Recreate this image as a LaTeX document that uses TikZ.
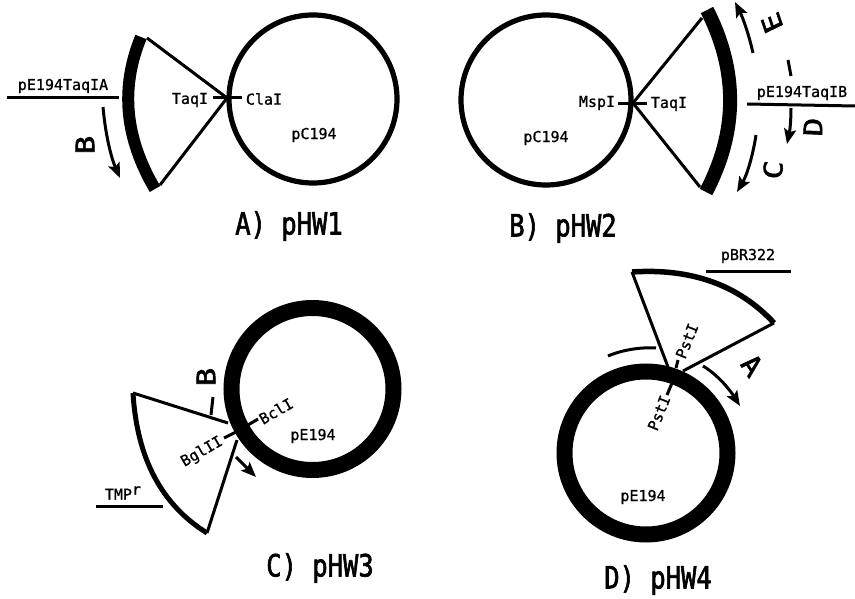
\documentclass[tikz,border=0pt]{standalone}
\usepackage{fontspec}
\setmonofont{DejaVu Sans Mono}
\newfontfamily\labfont[FakeBold=1.0]{DejaVu Sans Mono}
\newfontfamily\bigfont[FakeBold=2.2]{DejaVu Sans Mono}
\usetikzlibrary{arrows.meta,calc}
\tikzset{
 lab/.style={inner sep=0pt,font=\labfont\fontsize{15}{15}\selectfont},
 big/.style={inner sep=0pt,font=\bigfont\fontsize{25.5}{25}\selectfont,yscale=1.2},
 ring/.style={draw=black,line width=5.2pt},
 fatring/.style={draw=black,line width=16pt},
 thin/.style={draw=black,line width=3pt},
 tick/.style={draw=black,line width=3pt},
 spoke/.style={draw=black,line width=3pt},
 arr/.style={draw=black,line width=3pt,-{Stealth[length=15pt,width=12pt,inset=3pt]}},
}
\begin{document}
\begin{tikzpicture}[x=1pt,y=-1pt]
\useasboundingbox[fill=white] (0,0) rectangle (855,599);
% ---- A
\node[circle,ring,minimum size=168pt,inner sep=0pt] (ca) at (313,99) {};
\coordinate (aa) at (227,98); \coordinate (at) at (147,38); \coordinate (ab) at (160,185);
\coordinate (aao) at (141,37); \coordinate (abo) at (155,189);
\draw[spoke] (aa)--(at); \draw[spoke] (aa)--(ab);
\draw[line width=12pt] (aao) .. controls (120,88) and (125,138) .. (abo);
\coordinate (a1) at (7,98); \coordinate (a2) at (119,98);
\draw[thin] (a1)--(a2);
\coordinate (a3) at (213,98); \coordinate (a4) at (242,98);
\draw[tick] (a3)--(a4);
\node[lab] (a5) at (63,86) {pE194TaqIA};
\node[lab] (a6) at (190,100) {TaqI};
\node[lab] (a7) at (264,99) {ClaI};
\node[lab] (a8) at (314,135) {pC194};
\coordinate (a9) at (103,107); \coordinate (a10) at (120,178);
\draw[arr] (a9) .. controls (105,130) and (110,155) .. (a10);
\node[big,rotate=90] (a11) at (85,145) {B};
\node[big] (a12) at (289,226) {A) pHW1};
% ---- B
\node[circle,ring,minimum size=170pt,inner sep=0pt] (cb) at (546,100) {};
\coordinate (ba) at (633,103); \coordinate (bt) at (702,18); \coordinate (bb) at (700,187);
\coordinate (bto) at (707,10); \coordinate (bbo) at (706,192);
\draw[spoke] (ba)--(bt); \draw[spoke] (ba)--(bb);
\draw[line width=14pt] (bto) .. controls (738,71) and (738,131) .. (bbo);
\coordinate (b1) at (747,104); \coordinate (b2) at (855,106);
\draw[thin] (b1)--(b2);
\coordinate (b3) at (618,104); \coordinate (b4) at (647,104);
\draw[tick] (b3)--(b4);
\node[lab] (b5) at (802,93) {pE194TaqIB};
\node[lab] (b6) at (597,103) {MspI};
\node[lab] (b7) at (669,104) {TaqI};
\node[lab] (b8) at (546,138) {pC194};
\coordinate (b9) at (753,53); \coordinate (b10) at (735,2);
\draw[arr] (b9) .. controls (749,35) and (743,18) .. (b10);
\coordinate (b11) at (756,135); \coordinate (b12) at (737,192);
\draw[arr] (b11) .. controls (753,155) and (747,175) .. (b12);
\coordinate (b13) at (791,108); \coordinate (b14) at (787,144);
\draw[arr] (b13) .. controls (791,120) and (790,130) .. (b14);
\coordinate (b15) at (788,60); \coordinate (b16) at (791,76);
\draw[tick] (b15)--(b16);
\node[big,rotate=112] (b17) at (772,23) {E};
\node[big,rotate=88] (b18) at (813,127) {D};
\node[big,rotate=85] (b19) at (773,170) {C};
\node[big] (b20) at (563,228) {B) pHW2};
% ---- C
\node[circle,fatring,minimum size=162pt,inner sep=0pt] (cc) at (312.5,389) {};
\coordinate (ct) at (133,393); \coordinate (cb2) at (207,533);
\coordinate (cat) at (228,423); \coordinate (cab) at (237,440);
\draw[spoke] (cat)--(ct); \draw[spoke] (cab)--(cb2);
\draw[line width=5pt] (ct) .. controls (137,459) and (162,505) .. (cb2);
\coordinate (c1) at (224,438); \coordinate (c2) at (236,432);
\draw[tick] (c1)--(c2);
\coordinate (c3) at (248,425); \coordinate (c4) at (258,419);
\draw[tick] (c3)--(c4);
\node[lab,rotate=30] (c5) at (202,452) {BglII};
\node[lab,rotate=30] (c6) at (276,411) {BclI};
\node[lab] (c7) at (313,436) {pE194};
\coordinate (c8) at (213,397); \coordinate (c9) at (211,415);
\draw[tick] (c8)--(c9);
\node[big,rotate=90] (c10) at (206,377) {B};
\coordinate (c11) at (236,457); \coordinate (c12) at (256,477);
\draw[arr] (c11)--(c12);
\node[lab] (c13) at (123,493) {TMP\raisebox{5pt}{r}};
\coordinate (c14) at (96,506); \coordinate (c15) at (163,506);
\draw[thin] (c14)--(c15);
\node[big] (c16) at (320,568) {C) pHW3};
% ---- D
\node[circle,fatring,minimum size=163pt,inner sep=0pt] (cd) at (646,453) {};
\coordinate (dt) at (632,272); \coordinate (dr) at (774,323);
\coordinate (dal) at (668,367); \coordinate (dar) at (683,371);
\draw[spoke] (dal)--(dt); \draw[spoke] (dar)--(dr);
\draw[line width=5.5pt] (dt) .. controls (691,268) and (739,285) .. (dr);
\coordinate (d1) at (706,271); \coordinate (d2) at (791,271);
\draw[thin] (d1)--(d2);
\node[lab] (d3) at (748,256) {pBR322};
\coordinate (d4) at (678,360); \coordinate (d5) at (676,368);
\draw[tick] (d4)--(d5);
\coordinate (d6) at (672,383); \coordinate (d7) at (667,395);
\draw[tick] (d6)--(d7);
\node[lab,rotate=68] (d8) at (687,341) {PstI};
\node[lab,rotate=68] (d9) at (659,413) {PstI};
\node[lab] (d10) at (643,497) {pE194};
\coordinate (d11) at (608,356); \coordinate (d12) at (656,348);
\draw[tick] (d11) .. controls (622,350) and (640,347) .. (d12);
\coordinate (d13) at (703,366); \coordinate (d14) at (740,406);
\draw[arr] (d13) .. controls (718,375) and (730,390) .. (d14);
\node[big,rotate=-52] (d15) at (752,365) {A};
\node[big] (d16) at (658,580) {D) pHW4};
\end{tikzpicture}
\end{document}
